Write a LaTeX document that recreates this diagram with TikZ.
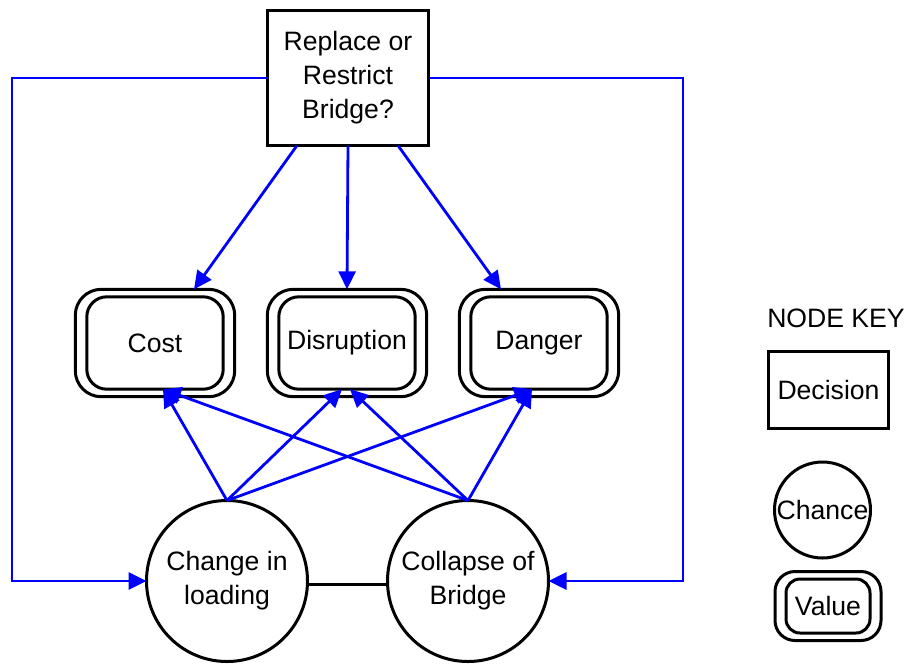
\documentclass[tikz,border=0pt]{standalone}
\usepackage{fontspec}
\setmainfont{Liberation Sans}
\usepackage{tikz}
\usetikzlibrary{positioning, arrows.meta, fit}

\begin{document}
\begin{tikzpicture}[
        x=1pt, y=1pt,
        font=\fontsize{13.3}{17}\selectfont,
        % Styles
        decision/.style={rectangle, draw=black, line width=1.5pt, minimum width=80.5pt, minimum height=67.5pt, align=center, inner sep=0pt, outer sep=0pt},
        chance/.style={circle, draw=black, line width=1.5pt, minimum size=80.5pt, align=center, inner sep=0pt, outer sep=0pt},
        % Value nodes: inner box plus an outer ring drawn with fit
        valnode/.style={rectangle, rounded corners=10pt, draw=black, line width=1.5pt, minimum width=68.2pt, minimum height=46.2pt, align=center, inner sep=0pt, outer sep=0pt},
        valring/.style={rectangle, rounded corners=13pt, draw=black, line width=1.5pt, inner xsep=5.75pt, inner ysep=3.75pt, outer sep=0pt},
        link/.style={-{Triangle[length=9pt, width=8.5pt]}, draw=blue, line width=1.4pt},
        connect/.style={draw=black, line width=1.5pt}
    ]

    \useasboundingbox (0,0) rectangle (452.5,-333);

    % --- DECISION ---
    \node[decision] (decision) at (174,-39) {Replace or\\Restrict\\Bridge?};

    % --- VALUE NODES ---
    \node[valnode] (disruption) at (173.5,-171.5) {Disruption};
    \node[valnode, left=27.8pt of disruption] (cost) {Cost};
    \node[valnode, right=27.8pt of disruption] (danger) {Danger};
    \node[valring, fit=(cost)] (costring) {};
    \node[valring, fit=(disruption)] (disruptionring) {};
    \node[valring, fit=(danger)] (dangerring) {};

    % --- CHANCE NODES ---
    \node[chance] (loading) at (113.5,-290.5) {Change in\\loading};
    \node[chance, right=40pt of loading] (collapse) {Collapse of\\Bridge};

    % Rails for the outer loops
    \coordinate (leftrail) at (6,0);
    \coordinate (rightrail) at (341.5,0);

    % Decision to values
    \draw[link] ([xshift=-25.5pt]decision.south) -- ([xshift=19.5pt]costring.north);
    \draw[link] (decision.south) -- (disruptionring.north);
    \draw[link] ([xshift=25pt]decision.south) -- ([xshift=-19pt]dangerring.north);

    % Chance to values
    \draw[link] (loading.north) -- ([xshift=4pt]cost.south);
    \draw[link] (loading.north) -- ([xshift=-2.5pt]disruption.south);
    \draw[link] (loading.north) -- ([xshift=-3.5pt]danger.south);
    \draw[link] (collapse.north) -- ([xshift=4pt]cost.south);
    \draw[link] (collapse.north) -- ([xshift=1.5pt]disruption.south);
    \draw[link] (collapse.north) -- ([xshift=-3.5pt]danger.south);

    % Decision to chance (outer loops)
    \draw[link] (decision.west) -- (decision.west -| leftrail) -- (leftrail |- loading.west) -- (loading.west);
    \draw[link] (decision.east) -- (decision.east -| rightrail) -- (rightrail |- collapse.east) -- (collapse.east);

    % Chance to chance
    \draw[connect] ([yshift=-1.5pt]loading.east) -- ([yshift=-1.5pt]collapse.west);

    % --- NODE KEY (Right Side) ---
    \node (keytitle) at (418,-159) {NODE KEY};
    \node[decision, minimum width=60pt, minimum height=38.5pt] (keydecision) at (414.25,-195) {Decision};
    \node[chance, minimum size=48pt] (keychance) at (411.25,-255) {Chance};
    \node[valnode, rounded corners=7pt, minimum width=42pt, minimum height=27pt] (keyvalue) at (414,-303) {Value};
    \node[valring, rounded corners=10pt, inner xsep=5.5pt, fit=(keyvalue)] (keyvaluering) {};

\end{tikzpicture}
\end{document}
